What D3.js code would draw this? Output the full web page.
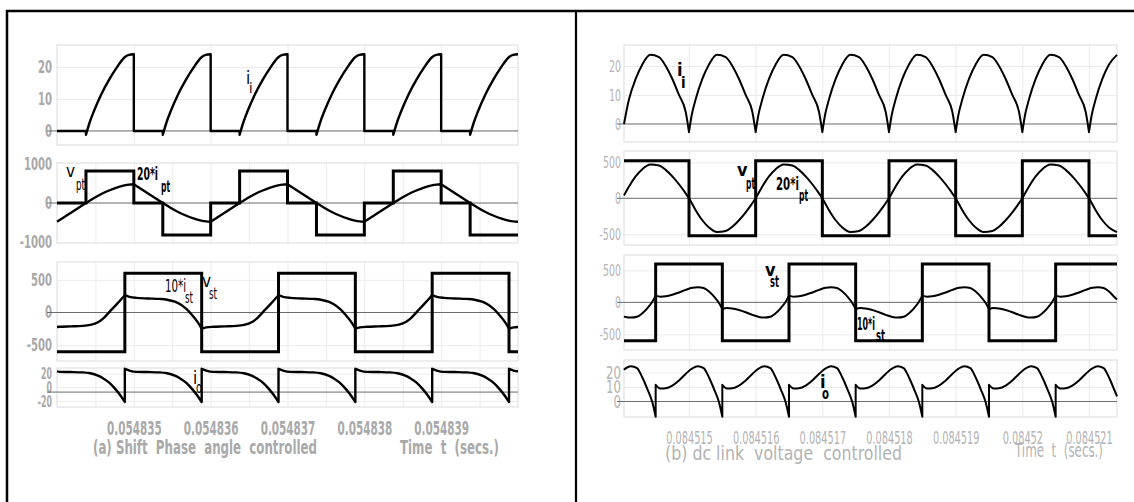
<!DOCTYPE html>
<html>
<head>
<meta charset="utf-8">
<script src="https://cdn.jsdelivr.net/npm/d3@7"></script>
<style>
  html, body { margin: 0; padding: 0; background: #fff; }
  svg { display: block; }
  text { font-family: 'Liberation Sans Narrow', 'Arial Narrow', 'DejaVu Sans Condensed', 'Liberation Sans', sans-serif; }
</style>
</head>
<body>
<svg id="chart" width="1134" height="502"></svg>
<script>
// ================= data =================
// Times are in microseconds after each panel's origin.

// ---- (a) shift phase angle controlled, origin 0.054834 s ----
const leftTickValues = [1, 2, 3, 4, 5];
const leftTickLabels = ["0.054835", "0.054836", "0.054837", "0.054838", "0.054839"];

// inverter input current i_i (A): zero intervals and rising pulses
const leftIi = [
  [[0, 0], [0.377, 0]],
  [[0.377, -1.2], [0.427, 2.8], [0.477, 6], [0.577, 11.5], [0.677, 16], [0.777, 19.8], [0.877, 23], [0.937, 23.8], [1, 24]],
  [[1, 0], [1.377, 0]],
  [[1.377, -1.2], [1.427, 2.8], [1.477, 6], [1.577, 11.5], [1.677, 16], [1.777, 19.8], [1.877, 23], [1.937, 23.8], [2, 24]],
  [[2, 0], [2.377, 0]],
  [[2.377, -1.2], [2.427, 2.8], [2.477, 6], [2.577, 11.5], [2.677, 16], [2.777, 19.8], [2.877, 23], [2.937, 23.8], [3, 24]],
  [[3, 0], [3.377, 0]],
  [[3.377, -1.2], [3.427, 2.8], [3.477, 6], [3.577, 11.5], [3.677, 16], [3.777, 19.8], [3.877, 23], [3.937, 23.8], [4, 24]],
  [[4, 0], [4.377, 0]],
  [[4.377, -1.2], [4.427, 2.8], [4.477, 6], [4.577, 11.5], [4.677, 16], [4.777, 19.8], [4.877, 23], [4.937, 23.8], [5, 24]],
  [[5, 0], [5.377, 0]],
  [[5.377, -1.2], [5.427, 2.8], [5.477, 6], [5.577, 11.5], [5.677, 16], [5.777, 19.8], [5.877, 23], [5.937, 23.8], [6, 24]]
];

// primary transformer voltage v_pt (V), step changes
const leftVptT = [0, 0.377, 1, 1.377, 2, 2.377, 3, 3.377, 4, 4.377, 5, 5.377, 6];
const leftVptV = [0, 820, 0, -820, 0, 820, 0, -820, 0, 820, 0, -820, -820];

// 20 * primary current i_pt
const leftIpt = [
  [[0, -480], [0.377, 0]],
  [[0.377, 0], [0.477, 120], [0.577, 230], [0.677, 320], [0.777, 396], [0.877, 450], [0.937, 472], [1, 480]],
  [[1, 480], [1.377, 0]],
  [[1.377, 0], [1.477, -120], [1.577, -230], [1.677, -320], [1.777, -396], [1.877, -450], [1.937, -472], [2, -480]],
  [[2, -480], [2.377, 0]],
  [[2.377, 0], [2.477, 120], [2.577, 230], [2.677, 320], [2.777, 396], [2.877, 450], [2.937, 472], [3, 480]],
  [[3, 480], [3.377, 0]],
  [[3.377, 0], [3.477, -120], [3.577, -230], [3.677, -320], [3.777, -396], [3.877, -450], [3.937, -472], [4, -480]],
  [[4, -480], [4.377, 0]],
  [[4.377, 0], [4.477, 120], [4.577, 230], [4.677, 320], [4.777, 396], [4.877, 450], [4.937, 472], [5, 480]],
  [[5, 480], [5.377, 0]],
  [[5.377, 0], [5.477, -120], [5.577, -230], [5.677, -320], [5.777, -396], [5.877, -450], [5.937, -472], [6, -480]]
];

// secondary transformer voltage v_st (V), step changes
const leftVstT = [0, 0.883, 1.883, 2.883, 3.883, 4.883, 5.883, 6];
const leftVstV = [-600, 600, -600, 600, -600, 600, -600, -600];

// 10 * secondary current i_st
const leftIst = [
  [[0, -221], [0.033, -218], [0.183, -212], [0.333, -205], [0.433, -190], [0.533, -150], [0.603, -90], [0.683, 10], [0.763, 110], [0.833, 200], [0.883, 265]],
  [[0.883, 265], [0.943, 240], [1.033, 224], [1.183, 215], [1.333, 208], [1.433, 196], [1.533, 165], [1.603, 125], [1.683, 55], [1.763, -45], [1.833, -150], [1.883, -245]],
  [[1.883, -245], [1.943, -228], [2.033, -218], [2.183, -212], [2.333, -205], [2.433, -190], [2.533, -150], [2.603, -90], [2.683, 10], [2.763, 110], [2.833, 200], [2.883, 265]],
  [[2.883, 265], [2.943, 240], [3.033, 224], [3.183, 215], [3.333, 208], [3.433, 196], [3.533, 165], [3.603, 125], [3.683, 55], [3.763, -45], [3.833, -150], [3.883, -245]],
  [[3.883, -245], [3.943, -228], [4.033, -218], [4.183, -212], [4.333, -205], [4.433, -190], [4.533, -150], [4.603, -90], [4.683, 10], [4.763, 110], [4.833, 200], [4.883, 265]],
  [[4.883, 265], [4.943, 240], [5.033, 224], [5.183, 215], [5.333, 208], [5.433, 196], [5.533, 165], [5.603, 125], [5.683, 55], [5.763, -45], [5.833, -150], [5.883, -245]],
  [[5.883, -245], [5.943, -228], [6, -221]]
];

// output current i_o (A)
const leftIo = [
  [[0, 23.2], [0.033, 22.6], [0.183, 22.3], [0.333, 21.8], [0.433, 20.5], [0.533, 17], [0.603, 13], [0.683, 6.5], [0.763, -3], [0.833, -13], [0.883, -21.5]],
  [[0.883, 27], [0.943, 24.5], [1.033, 22.6], [1.183, 22.3], [1.333, 21.8], [1.433, 20.5], [1.533, 17], [1.603, 13], [1.683, 6.5], [1.763, -3], [1.833, -13], [1.883, -21.5]],
  [[1.883, 27], [1.943, 24.5], [2.033, 22.6], [2.183, 22.3], [2.333, 21.8], [2.433, 20.5], [2.533, 17], [2.603, 13], [2.683, 6.5], [2.763, -3], [2.833, -13], [2.883, -21.5]],
  [[2.883, 27], [2.943, 24.5], [3.033, 22.6], [3.183, 22.3], [3.333, 21.8], [3.433, 20.5], [3.533, 17], [3.603, 13], [3.683, 6.5], [3.763, -3], [3.833, -13], [3.883, -21.5]],
  [[3.883, 27], [3.943, 24.5], [4.033, 22.6], [4.183, 22.3], [4.333, 21.8], [4.433, 20.5], [4.533, 17], [4.603, 13], [4.683, 6.5], [4.763, -3], [4.833, -13], [4.883, -21.5]],
  [[4.883, 27], [4.943, 24.5], [5.033, 22.6], [5.183, 22.3], [5.333, 21.8], [5.433, 20.5], [5.533, 17], [5.603, 13], [5.683, 6.5], [5.763, -3], [5.833, -13], [5.883, -21.5]],
  [[5.883, 27], [5.943, 24.5], [6, 23.2]]
];

// ---- (b) dc link voltage controlled, origin 0.084514 s ----
const rightTickValues = [1, 2, 3, 4, 5, 6, 7];
const rightTickLabels = ["0.084515", "0.084516", "0.084517", "0.084518", "0.084519", "0.08452", "0.084521"];

const rightIi = [
  [[0.025, 0], [0.1, 8.5], [0.2, 15.5], [0.3, 20.5], [0.42, 23.8], [0.55, 23], [0.65, 20], [0.75, 15.5], [0.85, 10], [0.95, 4.2], [1, -2.8]],
  [[1, -2.8], [1.04, 3], [1.1, 8.5], [1.2, 15.5], [1.3, 20.5], [1.42, 23.8], [1.55, 23], [1.65, 20], [1.75, 15.5], [1.85, 10], [1.95, 4.2], [2, -2.8]],
  [[2, -2.8], [2.04, 3], [2.1, 8.5], [2.2, 15.5], [2.3, 20.5], [2.42, 23.8], [2.55, 23], [2.65, 20], [2.75, 15.5], [2.85, 10], [2.95, 4.2], [3, -2.8]],
  [[3, -2.8], [3.04, 3], [3.1, 8.5], [3.2, 15.5], [3.3, 20.5], [3.42, 23.8], [3.55, 23], [3.65, 20], [3.75, 15.5], [3.85, 10], [3.95, 4.2], [4, -2.8]],
  [[4, -2.8], [4.04, 3], [4.1, 8.5], [4.2, 15.5], [4.3, 20.5], [4.42, 23.8], [4.55, 23], [4.65, 20], [4.75, 15.5], [4.85, 10], [4.95, 4.2], [5, -2.8]],
  [[5, -2.8], [5.04, 3], [5.1, 8.5], [5.2, 15.5], [5.3, 20.5], [5.42, 23.8], [5.55, 23], [5.65, 20], [5.75, 15.5], [5.85, 10], [5.95, 4.2], [6, -2.8]],
  [[6, -2.8], [6.04, 3], [6.1, 8.5], [6.2, 15.5], [6.3, 20.5], [6.42, 23.8], [6.55, 23], [6.65, 20], [6.75, 15.5], [6.85, 10], [6.95, 4.2], [7, -2.8]],
  [[7, -2.8], [7.04, 3], [7.1, 8.5], [7.2, 15.5], [7.3, 20.5], [7.42, 23.8]]
];

const rightVptT = [0.025, 1, 2, 3, 4, 5, 6, 7, 7.42];
const rightVptV = [522, -522, 522, -522, 522, -522, 522, -522, -522];

const rightIpt = [
  [[0.025, 40], [0.1, 165], [0.2, 305], [0.3, 405], [0.42, 470], [0.55, 455], [0.65, 395], [0.75, 305], [0.85, 195], [0.93, 95], [1, 0],
   [1.1, -165], [1.2, -305], [1.3, -405], [1.42, -470], [1.55, -455], [1.65, -395], [1.75, -305], [1.85, -195], [1.93, -95], [2, 0],
   [2.1, 165], [2.2, 305], [2.3, 405], [2.42, 470], [2.55, 455], [2.65, 395], [2.75, 305], [2.85, 195], [2.93, 95], [3, 0],
   [3.1, -165], [3.2, -305], [3.3, -405], [3.42, -470], [3.55, -455], [3.65, -395], [3.75, -305], [3.85, -195], [3.93, -95], [4, 0],
   [4.1, 165], [4.2, 305], [4.3, 405], [4.42, 470], [4.55, 455], [4.65, 395], [4.75, 305], [4.85, 195], [4.93, 95], [5, 0],
   [5.1, -165], [5.2, -305], [5.3, -405], [5.42, -470], [5.55, -455], [5.65, -395], [5.75, -305], [5.85, -195], [5.93, -95], [6, 0],
   [6.1, 165], [6.2, 305], [6.3, 405], [6.42, 470], [6.55, 455], [6.65, 395], [6.75, 305], [6.85, 195], [6.93, 95], [7, 0],
   [7.1, -165], [7.2, -305], [7.3, -405], [7.42, -470]]
];

const rightVstT = [0.025, 0.5, 1.5, 2.5, 3.5, 4.5, 5.5, 6.5, 7.42];
const rightVstV = [-600, 600, -600, 600, -600, 600, -600, 600, 600];

const rightIst = [
  [[0.025, -218], [0.05, -228], [0.13, -238], [0.22, -225], [0.3, -170], [0.38, -85], [0.45, 10], [0.5, 105]],
  [[0.5, 105], [0.57, 88], [0.65, 95], [0.75, 120], [0.85, 155], [0.95, 195], [1.05, 228], [1.13, 238], [1.22, 225], [1.3, 170], [1.38, 85], [1.45, -10], [1.5, -105]],
  [[1.5, -105], [1.57, -88], [1.65, -95], [1.75, -120], [1.85, -155], [1.95, -195], [2.05, -228], [2.13, -238], [2.22, -225], [2.3, -170], [2.38, -85], [2.45, 10], [2.5, 105]],
  [[2.5, 105], [2.57, 88], [2.65, 95], [2.75, 120], [2.85, 155], [2.95, 195], [3.05, 228], [3.13, 238], [3.22, 225], [3.3, 170], [3.38, 85], [3.45, -10], [3.5, -105]],
  [[3.5, -105], [3.57, -88], [3.65, -95], [3.75, -120], [3.85, -155], [3.95, -195], [4.05, -228], [4.13, -238], [4.22, -225], [4.3, -170], [4.38, -85], [4.45, 10], [4.5, 105]],
  [[4.5, 105], [4.57, 88], [4.65, 95], [4.75, 120], [4.85, 155], [4.95, 195], [5.05, 228], [5.13, 238], [5.22, 225], [5.3, 170], [5.38, 85], [5.45, -10], [5.5, -105]],
  [[5.5, -105], [5.57, -88], [5.65, -95], [5.75, -120], [5.85, -155], [5.95, -195], [6.05, -228], [6.13, -238], [6.22, -225], [6.3, -170], [6.38, -85], [6.45, 10], [6.5, 105]],
  [[6.5, 105], [6.57, 88], [6.65, 95], [6.75, 120], [6.85, 155], [6.95, 195], [7.05, 228], [7.13, 238], [7.22, 225], [7.3, 170], [7.38, 85], [7.42, 45]]
];

const rightIo = [
  [[0.025, 21.8], [0.05, 22.8], [0.13, 24.3], [0.22, 23], [0.3, 16.5], [0.38, 8], [0.45, -0.5], [0.5, -10.5]],
  [[0.5, 11.5], [0.57, 9], [0.65, 9.2], [0.75, 11], [0.85, 14.5], [0.95, 19], [1.05, 22.8], [1.13, 24.3], [1.22, 23], [1.3, 16.5], [1.38, 8], [1.45, -0.5], [1.5, -10.5]],
  [[1.5, 11.5], [1.57, 9], [1.65, 9.2], [1.75, 11], [1.85, 14.5], [1.95, 19], [2.05, 22.8], [2.13, 24.3], [2.22, 23], [2.3, 16.5], [2.38, 8], [2.45, -0.5], [2.5, -10.5]],
  [[2.5, 11.5], [2.57, 9], [2.65, 9.2], [2.75, 11], [2.85, 14.5], [2.95, 19], [3.05, 22.8], [3.13, 24.3], [3.22, 23], [3.3, 16.5], [3.38, 8], [3.45, -0.5], [3.5, -10.5]],
  [[3.5, 11.5], [3.57, 9], [3.65, 9.2], [3.75, 11], [3.85, 14.5], [3.95, 19], [4.05, 22.8], [4.13, 24.3], [4.22, 23], [4.3, 16.5], [4.38, 8], [4.45, -0.5], [4.5, -10.5]],
  [[4.5, 11.5], [4.57, 9], [4.65, 9.2], [4.75, 11], [4.85, 14.5], [4.95, 19], [5.05, 22.8], [5.13, 24.3], [5.22, 23], [5.3, 16.5], [5.38, 8], [5.45, -0.5], [5.5, -10.5]],
  [[5.5, 11.5], [5.57, 9], [5.65, 9.2], [5.75, 11], [5.85, 14.5], [5.95, 19], [6.05, 22.8], [6.13, 24.3], [6.22, 23], [6.3, 16.5], [6.38, 8], [6.45, -0.5], [6.5, -10.5]],
  [[6.5, 11.5], [6.57, 9], [6.65, 9.2], [6.75, 11], [6.85, 14.5], [6.95, 19], [7.05, 22.8], [7.13, 24.3], [7.22, 23], [7.3, 16.5], [7.38, 8], [7.42, 3.5]]
];

// ================= drawing =================
const svg = d3.select("#chart");
const zip = (t, v) => t.map((d, i) => [d, v[i]]);

// condensed width of a numeric label: digits full width, '.' and '-' narrower
function numWidth(str, digitW) {
  let w = 0;
  for (const c of str) w += (c === "." ? 0.5 : c === "-" ? 0.6 : 1) * digitW;
  return w;
}

// outer frame lines
svg.append("line").attr("x1", 6).attr("x2", 1134).attr("y1", 11).attr("y2", 11)
  .attr("stroke", "#000").attr("stroke-width", 2.5);
svg.append("line").attr("x1", 7).attr("x2", 7).attr("y1", 10).attr("y2", 502)
  .attr("stroke", "#000").attr("stroke-width", 2.5);
svg.append("line").attr("x1", 576).attr("x2", 576).attr("y1", 10).attr("y2", 502)
  .attr("stroke", "#000").attr("stroke-width", 2.2);

function piecewisePath(x, y, pieces) {
  const gen = d3.line().x(d => x(d[0])).y(d => y(d[1])).curve(d3.curveMonotoneX);
  return pieces.map((p, i) => {
    const s = gen(p);
    return i === 0 ? s : "L" + s.slice(1);
  }).join("");
}

function drawPanel(p) {
  const x = d3.scaleLinear().domain(p.tDomain).range([p.left, p.right]);
  const width = p.right - p.left;

  p.subplots.forEach(sp => {
    const y = d3.scaleLinear().domain(sp.domain).range([sp.bottom, sp.top]);
    const g = svg.append("g");
    const h = sp.bottom - sp.top;

    // vertical grid
    g.append("g").attr("transform", `translate(0,${sp.bottom})`)
      .call(d3.axisBottom(x).tickValues(sp.vGrid).tickSize(-h).tickFormat(""))
      .call(a => a.select(".domain").remove())
      .call(a => a.selectAll("line").attr("stroke", "#ebebeb").attr("stroke-width", 1));
    // horizontal grid
    g.append("g").attr("transform", `translate(${p.left},0)`)
      .call(d3.axisLeft(y).tickValues(sp.hGrid).tickSize(-width).tickFormat(""))
      .call(a => a.select(".domain").remove())
      .call(a => a.selectAll("line").attr("stroke", "#ebebeb").attr("stroke-width", 1));
    // frame
    g.append("rect").attr("x", p.left).attr("y", sp.top).attr("width", width).attr("height", h)
      .attr("fill", "none").attr("stroke", "#e2e2e2").attr("stroke-width", 1.2);

    // y tick labels
    const ya = g.append("g").attr("transform", `translate(${p.left},0)`)
      .call(d3.axisLeft(y).tickValues(sp.ticks).tickSize(0).tickPadding(p.tickPad).tickFormat(d => String(d)))
      .call(a => a.select(".domain").remove());
    const dW = sp.digitW || p.yDigitW;
    ya.selectAll("text")
      .attr("fill", p.tickColor).attr("font-size", sp.tickSize || p.yTickSize)
      .attr("font-weight", p.weight)
      .attr("font-family", null)
      .attr("textLength", function () { return numWidth(this.textContent, dW); })
      .attr("lengthAdjust", "spacingAndGlyphs");

    // reference line
    g.append("line").attr("x1", p.left - p.zeroExt).attr("x2", p.right)
      .attr("y1", y(sp.refLine)).attr("y2", y(sp.refLine))
      .attr("stroke", "#6a6a6a").attr("stroke-width", 1);

    // step (square-wave) series
    (sp.steps || []).forEach(s => {
      g.append("path")
        .attr("d", d3.line().x(d => x(d[0])).y(d => y(d[1])).curve(d3.curveStepAfter)(s.data))
        .attr("fill", "none").attr("stroke", "#000").attr("stroke-width", s.width);
    });
    // smooth series
    (sp.curves || []).forEach(s => {
      g.append("path").attr("d", piecewisePath(x, y, s.data))
        .attr("fill", "none").attr("stroke", "#000").attr("stroke-width", s.width)
        .attr("stroke-linejoin", "round");
    });
  });

  // x tick labels
  const xa = svg.append("g").attr("transform", `translate(0,${p.xLabelY})`)
    .call(d3.axisBottom(x).tickValues(p.xTicks).tickSize(0).tickPadding(0)
      .tickFormat((d, i) => p.xTickLabels[i]))
    .call(a => a.select(".domain").remove());
  xa.selectAll("text")
    .attr("dy", 0).attr("y", 0)
    .attr("fill", p.tickColor).attr("font-size", p.xTickSize).attr("font-weight", p.weight)
    .attr("font-family", null)
    .attr("textLength", function () { return numWidth(this.textContent, p.xDigitW); })
    .attr("lengthAdjust", "spacingAndGlyphs");

  // captions
  p.captions.forEach(c => {
    svg.append("text").attr("x", c.x).attr("y", c.y).text(c.text)
      .attr("fill", p.tickColor).attr("font-size", c.size).attr("font-weight", p.weight)
      .attr("textLength", c.len).attr("lengthAdjust", "spacingAndGlyphs")
      .style("white-space", "pre");
  });

  // trace labels with subscripts
  p.labels.forEach(l => {
    const w = l.bold ? "bold" : "normal";
    const t = svg.append("text").attr("x", l.x).attr("y", l.y)
      .attr("font-size", l.size).attr("font-weight", w).attr("fill", "#000").text(l.main);
    if (l.len) t.attr("textLength", l.len).attr("lengthAdjust", "spacingAndGlyphs");
    const s = svg.append("text").attr("x", l.sx).attr("y", l.sy)
      .attr("font-size", l.subSize).attr("font-weight", w).attr("fill", "#000").text(l.sub);
    if (l.subLen) s.attr("textLength", l.subLen).attr("lengthAdjust", "spacingAndGlyphs");
  });
}

const halfGridLeft = [0.5, 1, 1.5, 2, 2.5, 3, 3.5, 4, 4.5, 5, 5.5];

drawPanel({
  left: 57, right: 518, tDomain: [0, 6],
  tickPad: 5, zeroExt: 10, tickColor: "#a9a9a9", weight: "bold", yTickSize: 17, yDigitW: 7,
  xTicks: leftTickValues, xTickLabels: leftTickLabels, xLabelY: 435, xTickSize: 19, xDigitW: 7.3,
  captions: [
    { text: "(a) Shift  Phase  angle  controlled", x: 93, y: 454, size: 19, len: 224 },
    { text: "Time  t  (secs.)", x: 400, y: 454, size: 19, len: 99 }
  ],
  labels: [
    { main: "i", sub: "i", x: 246, y: 84, sx: 249, sy: 93, size: 17, subSize: 14, bold: false },
    { main: "v", sub: "pt", x: 66, y: 177, sx: 76, sy: 190, size: 17, subSize: 16, subLen: 9, bold: false },
    { main: "20*i", sub: "pt", x: 137, y: 180, sx: 161, sy: 192, size: 17, len: 21, subSize: 16, subLen: 9, bold: true },
    { main: "10*i", sub: "st", x: 165, y: 292, sx: 185, sy: 303, size: 17, len: 21, subSize: 16, subLen: 8, bold: false },
    { main: "v", sub: "st", x: 202, y: 287, sx: 209, sy: 299, size: 17, subSize: 16, subLen: 8, bold: false },
    { main: "i", sub: "o", x: 193, y: 384, sx: 196, sy: 393, size: 17, subSize: 15, subLen: 6, bold: false }
  ],
  subplots: [
    { top: 45, bottom: 145, domain: [-4.4, 26.9], ticks: [0, 10, 20], hGrid: [10, 20], vGrid: leftTickValues, refLine: 0,
      curves: [{ data: leftIi, width: 2.4 }] },
    { top: 163, bottom: 243, domain: [-1025, 1025], ticks: [-1000, 0, 1000], hGrid: [], vGrid: halfGridLeft, refLine: 0,
      steps: [{ data: zip(leftVptT, leftVptV), width: 3 }],
      curves: [{ data: leftIpt, width: 2.4 }] },
    { top: 262, bottom: 361, domain: [-742, 773], ticks: [-500, 0, 500], hGrid: [-500, 500], vGrid: halfGridLeft, refLine: 0,
      steps: [{ data: zip(leftVstT, leftVstV), width: 3 }],
      curves: [{ data: leftIst, width: 2.4 }] },
    { top: 368, bottom: 407, domain: [-28.8, 28.2], ticks: [-20, 0, 20], hGrid: [-20, 0, 20], vGrid: halfGridLeft, refLine: -7,
      tickSize: 16, digitW: 5.5,
      curves: [{ data: leftIo, width: 2.4 }] }
  ]
});

drawPanel({
  left: 624, right: 1117, tDomain: [0.025, 7.42],
  tickPad: 3, zeroExt: 7, tickColor: "#b3b3b3", weight: "normal", yTickSize: 16, yDigitW: 6,
  xTicks: rightTickValues, xTickLabels: rightTickLabels, xLabelY: 444, xTickSize: 18, xDigitW: 6.2,
  captions: [
    { text: "(b) dc link  voltage  controlled", x: 665, y: 460, size: 20, len: 237 },
    { text: "Time  t  (secs.)", x: 1015, y: 457, size: 20, len: 88 }
  ],
  labels: [
    { main: "i", sub: "i", x: 677, y: 76, sx: 681, sy: 88, size: 18, subSize: 15, bold: true },
    { main: "v", sub: "pt", x: 737, y: 176, sx: 746, sy: 189, size: 18, subSize: 15, subLen: 9, bold: true },
    { main: "20*i", sub: "pt", x: 776, y: 190, sx: 799, sy: 201, size: 17, len: 23, subSize: 15, subLen: 9, bold: true },
    { main: "v", sub: "st", x: 765, y: 276, sx: 770, sy: 287, size: 18, subSize: 15, subLen: 9, bold: true },
    { main: "10*i", sub: "st", x: 857, y: 330, sx: 876, sy: 341, size: 17, len: 18, subSize: 15, subLen: 9, bold: true },
    { main: "i", sub: "o", x: 820, y: 388, sx: 822, sy: 399, size: 18, subSize: 15, subLen: 7, bold: true }
  ],
  subplots: [
    { top: 45, bottom: 142, domain: [-6.2, 27.2], ticks: [0, 10, 20], hGrid: [10, 20], vGrid: rightTickValues, refLine: 0,
      curves: [{ data: rightIi, width: 2 }] },
    { top: 151, bottom: 245, domain: [-649, 657], ticks: [-500, 0, 500], hGrid: [-500, 500], vGrid: rightTickValues, refLine: 0,
      steps: [{ data: zip(rightVptT, rightVptV), width: 3 }],
      curves: [{ data: rightIpt, width: 2 }] },
    { top: 255, bottom: 350, domain: [-745, 741], ticks: [-500, 0, 500], hGrid: [-500, 500], vGrid: rightTickValues, refLine: 0,
      steps: [{ data: zip(rightVstT, rightVstV), width: 3 }],
      curves: [{ data: rightIst, width: 2 }] },
    { top: 360, bottom: 417, domain: [-10.7, 28.6], ticks: [0, 10, 20], hGrid: [10, 20], vGrid: rightTickValues, refLine: 0,
      tickSize: 18, digitW: 7.5,
      curves: [{ data: rightIo, width: 2 }] }
  ]
});
</script>
</body>
</html>
